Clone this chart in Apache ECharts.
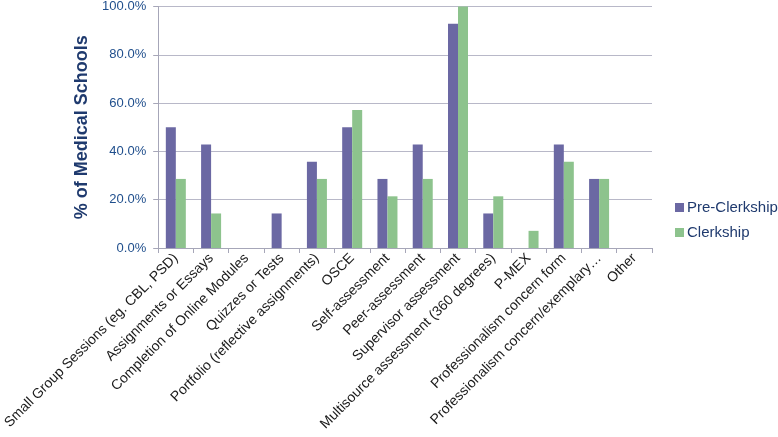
<!DOCTYPE html>
<html><head><meta charset="utf-8">
<script src="https://cdn.jsdelivr.net/npm/echarts@6/dist/echarts.min.js"></script>
<style>html,body{margin:0;padding:0;background:#fff}#c{width:778px;height:437px}</style>
</head><body><div id="c"></div>
<script>
const categories = ["Small Group Sessions (eg. CBL, PSD)","Assignments or Essays","Completion of Online Modules","Quizzes or Tests","Portfolio (reflective assignments)","OSCE","Self-assessment","Peer-assessment","Supervisor assessment","Multisource assessment (360 degrees)","P-MEX","Professionalism concern form","Professionalism concern/exemplary…","Other"];
const preClerkship = [50.0,42.9,0,14.3,35.7,50.0,28.6,42.9,92.9,14.3,0,42.9,28.6,0];
const clerkship = [28.6,14.3,0,0,28.6,57.1,21.4,28.6,100.0,21.4,7.1,35.7,28.6,0];
const seriesNames = ["Pre-Clerkship","Clerkship"];
const chart = echarts.init(document.getElementById('c'));
chart.setOption({
  animation:false,
  textStyle:{fontFamily:'Liberation Sans, Arial, sans-serif'},
  grid:{left:154,top:6,width:498,height:242,containLabel:false},
  legend:{orient:'vertical',left:670,top:195,itemWidth:9,itemHeight:9,itemGap:10,icon:'rect',
    textStyle:{color:'#1F3A6E',fontSize:15,padding:[0,0,0,-2]},data:seriesNames},
  xAxis:{type:'category',data:categories,
    axisLine:{lineStyle:{color:'#A6A6B8'}},
    axisTick:{show:true,length:5,lineStyle:{color:'#A6A6B8'}},
    axisLabel:{interval:0,rotate:45,color:'#1a1a1a',fontSize:14,margin:8}},
  yAxis:{type:'value',min:0,max:100,interval:20,
    name:'% of Medical Schools',nameLocation:'middle',nameGap:54,
    nameTextStyle:{color:'#1F3A6E',fontSize:18,fontWeight:'bold'},
    axisLine:{show:true,lineStyle:{color:'#A6A6B8'}},
    axisTick:{show:true,length:5,inside:false,lineStyle:{color:'#A6A6B8'}},
    splitLine:{lineStyle:{color:'#B8B8C8'}},
    axisLabel:{color:'#1F4E8C',fontSize:13,formatter:v=>v.toFixed(1)+'%',margin:12}},
  series:[
    {name:seriesNames[0],type:'bar',data:preClerkship,barWidth:10,barGap:'0%',
      itemStyle:{color:'#6B68A3'}},
    {name:seriesNames[1],type:'bar',data:clerkship,barWidth:10,
      itemStyle:{color:'#8DC38D'}}
  ]
});
</script></body></html>
